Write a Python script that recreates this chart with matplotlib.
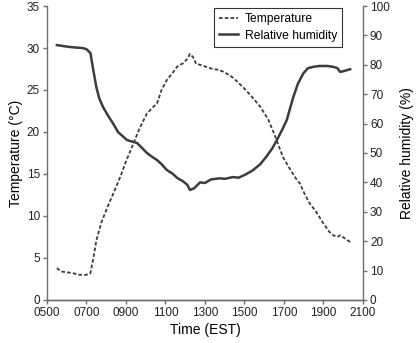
import matplotlib
matplotlib.use("Agg")
import matplotlib.pyplot as plt
from matplotlib.lines import Line2D

matplotlib.rcParams.update({
    "font.family": "Liberation Sans",
    "font.size": 8.5,
    "axes.labelsize": 10,
    "legend.fontsize": 8.7,
})

# ── Data (time in decimal hours) ─────────────────────────────────────────
temp_hours = [5.5, 5.7, 6.0, 6.3, 6.6, 6.8, 7.0, 7.2, 7.35, 7.5, 7.75, 8.05,
              8.4, 8.7, 9.0, 9.37, 9.7, 10.06, 10.3, 10.57, 10.8, 11.07,
              11.35, 11.6, 11.9, 12.1, 12.24, 12.4, 12.55, 12.75, 13.0,
              13.4, 13.7, 14.0, 14.4, 14.9, 15.3, 15.8, 16.2, 16.5, 16.95,
              17.3, 17.65, 17.8, 18.05, 18.3, 18.6, 19.0, 19.3, 19.5, 19.7,
              19.85, 20.1, 20.35]
temp_values = [3.8, 3.4, 3.3, 3.2, 3.0, 3.0, 3.0, 3.2, 5.0, 7.1, 9.2, 11.0,
               12.9, 14.6, 16.5, 18.6, 20.5, 22.2, 22.8, 23.4, 25.0, 26.2,
               27.0, 27.8, 28.2, 28.7, 29.3, 28.9, 28.1, 28.0, 27.8,
               27.5, 27.4, 27.1, 26.5, 25.4, 24.4, 23.0, 21.5, 19.8, 17.0,
               15.6, 14.3, 13.9, 12.6, 11.5, 10.6, 9.1, 8.1, 7.7, 7.5,
               7.7, 7.3, 6.9]

rh_hours = [5.5, 5.8, 6.1, 6.4, 6.8, 7.0, 7.2, 7.35, 7.5, 7.65, 7.84, 8.1,
            8.35, 8.6, 9.05, 9.3, 9.56, 9.8, 10.06, 10.3, 10.57, 10.8, 11.07,
            11.35, 11.6, 11.9, 12.1, 12.24, 12.45, 12.75, 13.0, 13.3, 13.76,
            14.0, 14.4, 14.7, 15.0, 15.4, 15.8, 16.1, 16.4, 16.64, 16.9,
            17.14, 17.3, 17.47, 17.7, 17.97, 18.2, 18.47, 18.8, 19.2, 19.5,
            19.7, 19.84, 20.0, 20.2, 20.35]
rh_values = [86.7, 86.4, 86.1, 85.9, 85.7, 85.3, 84.0, 78.0, 72.4, 68.5, 65.6,
             62.6, 60.0, 57.1, 54.4, 53.9, 53.4, 51.8, 50.0, 48.8, 47.6, 46.2,
             44.2, 43.0, 41.5, 40.3, 39.2, 37.4, 38.0, 40.0, 39.8, 41.0, 41.4,
             41.2, 41.8, 41.6, 42.5, 44.0, 46.2, 48.7, 51.5, 54.4, 57.8,
             61.2, 65.0, 69.0, 73.5, 77.0, 78.8, 79.3, 79.6, 79.6, 79.3,
             78.9, 77.6, 77.8, 78.2, 78.5]

x_ticks = [5, 7, 9, 11, 13, 15, 17, 19, 21]
x_tick_labels = ["0500", "0700", "0900", "1100", "1300", "1500", "1700",
                 "1900", "2100"]

LINE_COLOR = "#3c3c3c"
SPINE_COLOR = "#6e6e6e"

fig = plt.figure(figsize=(4.17, 3.43), dpi=100)
ax = fig.add_axes([0.1127, 0.1254, 0.7578, 0.8571])
ax2 = ax.twinx()

ax.plot(temp_hours, temp_values, color=LINE_COLOR, linewidth=1.3,
        linestyle=(0, (2.0, 1.2)))
ax2.plot(rh_hours, rh_values, color=LINE_COLOR, linewidth=1.8,
         linestyle="-")

ax.set_xlim(5, 21)
ax.set_ylim(0, 35)
ax2.set_ylim(0, 100)
ax.set_xticks(x_ticks)
ax.set_xticklabels(x_tick_labels)
ax.set_yticks(range(0, 36, 5))
ax2.set_yticks(range(0, 101, 10))

for a in (ax, ax2):
    a.spines["top"].set_visible(False)
    for side in ("left", "right", "bottom"):
        a.spines[side].set_color(SPINE_COLOR)
        a.spines[side].set_linewidth(1.0)
    a.tick_params(direction="out", length=3, width=1.0, color=SPINE_COLOR,
                  labelcolor="#222222", pad=2)
ax.spines["right"].set_visible(False)
ax2.spines["left"].set_visible(False)

ax.set_xlabel("Time (EST)", labelpad=3)
ax.set_ylabel("Temperature (°C)", labelpad=3)
ax2.set_ylabel("Relative humidity (%)", labelpad=7)

handles = [
    Line2D([], [], color=LINE_COLOR, linewidth=1.3, linestyle=(0, (2.0, 1.2))),
    Line2D([], [], color=LINE_COLOR, linewidth=1.8),
]
leg = ax.legend(handles, ["Temperature", "Relative humidity"],
                loc="upper left", bbox_to_anchor=(0.528, 0.993),
                frameon=True, fancybox=False, handlelength=1.6,
                borderpad=0.4, labelspacing=0.4, handletextpad=0.55,
                borderaxespad=0.0)
leg.get_frame().set_edgecolor("black")
leg.get_frame().set_linewidth(0.8)

fig.savefig("out.png", dpi=100)
